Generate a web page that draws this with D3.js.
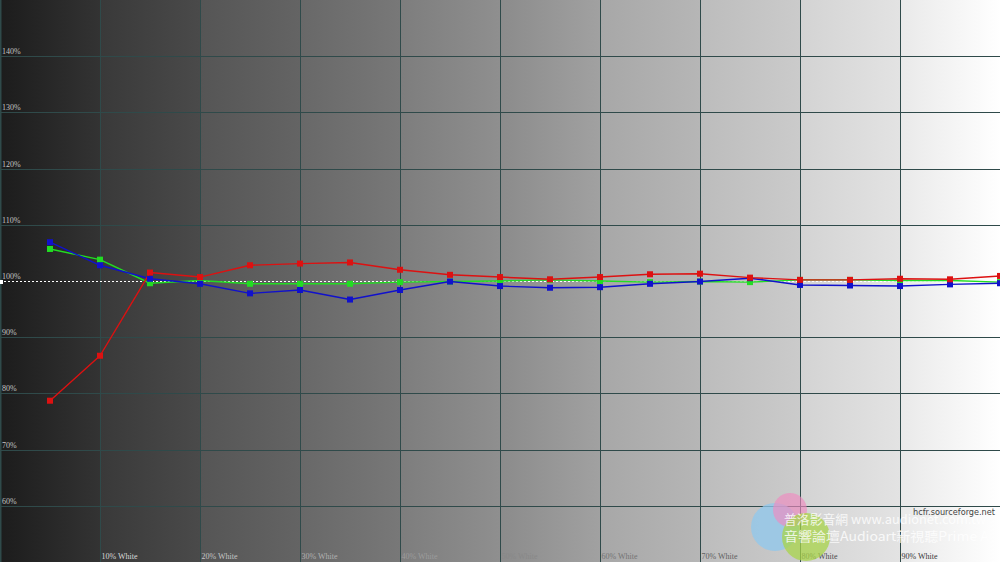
<!DOCTYPE html>
<html><head><meta charset="utf-8">
<script src="https://cdn.jsdelivr.net/npm/d3@7/dist/d3.min.js"></script>
<style>html,body{margin:0;padding:0;background:#000;overflow:hidden}</style>
</head><body>
<script>
const levels = [5,10,15,20,25,30,35,40,45,50,55,60,65,70,75,80,85,90,95,100];
const redValues   = [78.7,86.7,101.5,100.7,102.8,103.1,103.3,102.0,101.1,100.7,100.3,100.7,101.2,101.3,100.6,100.2,100.2,100.4,100.3,100.9];
const greenValues = [105.7,103.8,99.6,100.1,99.5,99.5,99.5,99.8,99.9,100.0,100.2,100.0,99.8,99.9,99.8,100.2,100.2,100.1,100.1,99.8];
const blueValues  = [106.9,102.8,100.4,99.5,97.8,98.4,96.7,98.4,99.9,99.1,98.8,98.9,99.5,99.9,100.5,99.3,99.2,99.1,99.4,99.6];
const xTickValues = [10,20,30,40,50,60,70,80,90];
const xTickLabels = ["10% White","20% White","30% White","40% White","50% White","60% White","70% White","80% White","90% White"];
const yTickValues = [140,130,120,110,100,90,80,70,60];
const yTickLabels = ["140%","130%","120%","110%","100%","90%","80%","70%","60%"];

const W = 1000, H = 562;
const x = d3.scaleLinear().domain([0,100]).range([0,W]);
const y = d3.scaleLinear().domain([50,150]).range([562,0]);

const svg = d3.select("body").append("svg").attr("width",W).attr("height",H);
const defs = svg.append("defs");

const colStarts = ["#1c1c1c","#393939","#555555","#686868","#7d7d7d","#8b8b8b","#a7a7a7","#bcbcbc","#d3d3d3","#e9e9e9"];
const colEnds   = ["#333333","#4a4a4a","#646464","#787878","#8f8f8f","#a1a1a1","#b6b6b6","#cbcbcb","#e3e3e3","#ffffff"];
const grad = defs.append("linearGradient").attr("id","bg").attr("x1","0").attr("x2","1").attr("y1","0").attr("y2","0");
colStarts.forEach((c,i)=>{
  grad.append("stop").attr("offset",(i*10)/100).attr("stop-color",c);
  grad.append("stop").attr("offset",(i*10+9.99)/100).attr("stop-color",colEnds[i]);
});
svg.append("rect").attr("width",W).attr("height",H).attr("fill","url(#bg)");

const gridColor = "#2f4a4a";
svg.append("g").selectAll("line").data(xTickValues).join("line")
  .attr("x1",d=>Math.round(x(d))+0.5).attr("x2",d=>Math.round(x(d))+0.5)
  .attr("y1",0).attr("y2",H).attr("stroke",gridColor).attr("stroke-width",1);
const hLines = [140,130,120,110,90,80,70,60];
svg.append("g").selectAll("line").data(hLines).join("line")
  .attr("x1",0).attr("x2",W)
  .attr("y1",d=>Math.round(y(d))+0.5).attr("y2",d=>Math.round(y(d))+0.5)
  .attr("stroke",gridColor).attr("stroke-width",1);
svg.append("line").attr("x1",0.75).attr("x2",0.75).attr("y1",0).attr("y2",H).attr("stroke",gridColor).attr("stroke-width",1.5);

svg.append("line").attr("x1",0).attr("x2",W)
  .attr("y1",Math.round(y(100))+0.5).attr("y2",Math.round(y(100))+0.5)
  .attr("stroke","#ffffff").attr("stroke-width",1).attr("stroke-dasharray","2,2");
svg.append("rect").attr("x",0).attr("y",Math.round(y(100))-1).attr("width",3).attr("height",4).attr("fill","#fff");

svg.append("g").selectAll("text").data(yTickValues).join("text")
  .attr("x",2).attr("y",d=>y(d)-2)
  .attr("font-family","Liberation Serif, serif").attr("font-size",8)
  .attr("fill","#c4c4c4").text((d,i)=>yTickLabels[i]);

const labelColor = d3.scaleLinear().domain([0,100]).range(["#eeeeee","#222222"]);
svg.append("g").selectAll("text").data(xTickValues).join("text")
  .attr("x",d=>x(d)+1.5).attr("y",559)
  .attr("font-family","Liberation Serif, serif").attr("font-size",8)
  .attr("fill",d=>labelColor(d)).text((d,i)=>xTickLabels[i]);

const series = [
  {vals: greenValues, color:"#22dd22"},
  {vals: blueValues,  color:"#1111cc"},
  {vals: redValues,   color:"#dd1111"}
];
const line = d3.line().x((d,i)=>x(levels[i])).y(d=>y(d));
series.forEach(s=>{
  svg.append("path").datum(s.vals).attr("d",line).attr("fill","none")
    .attr("stroke",s.color).attr("stroke-width",1.4).attr("stroke-linejoin","round");
});
series.forEach(s=>{
  svg.append("g").selectAll("rect").data(s.vals).join("rect")
    .attr("x",(d,i)=>x(levels[i])-3).attr("y",d=>y(d)-3)
    .attr("width",6).attr("height",6).attr("fill",s.color);
});

const wm = svg.append("g");
wm.append("circle").attr("cx",775).attr("cy",527).attr("r",24).attr("fill","#8fc8ee").attr("opacity",0.75);
wm.append("circle").attr("cx",790).attr("cy",510).attr("r",17).attr("fill","#f08ac0").attr("opacity",0.65);
wm.append("circle").attr("cx",806).attr("cy",537).attr("r",24).attr("fill","#a8d44a").attr("opacity",0.75);
wm.append("text").attr("x",784).attr("y",524).attr("font-family","Noto Sans CJK TC, sans-serif")
  .attr("font-size",13).attr("textLength",202).attr("lengthAdjust","spacingAndGlyphs")
  .attr("fill","#ffffff").attr("opacity",0.8).text("普洛影音網 www.audionet.com.tw");
wm.append("text").attr("x",784).attr("y",541).attr("font-family","Noto Sans CJK TC, sans-serif")
  .attr("font-size",13).attr("textLength",212).attr("lengthAdjust","spacingAndGlyphs")
  .attr("fill","#ffffff").attr("opacity",0.8).text("音響論壇Audioart新視聽Prime Av");
svg.append("text").attr("x",913).attr("y",515).attr("font-family","DejaVu Sans, sans-serif")
  .attr("font-size",9).attr("textLength",82).attr("lengthAdjust","spacingAndGlyphs")
  .attr("fill","#444").text("hcfr.sourceforge.net");
</script>
</body></html>
